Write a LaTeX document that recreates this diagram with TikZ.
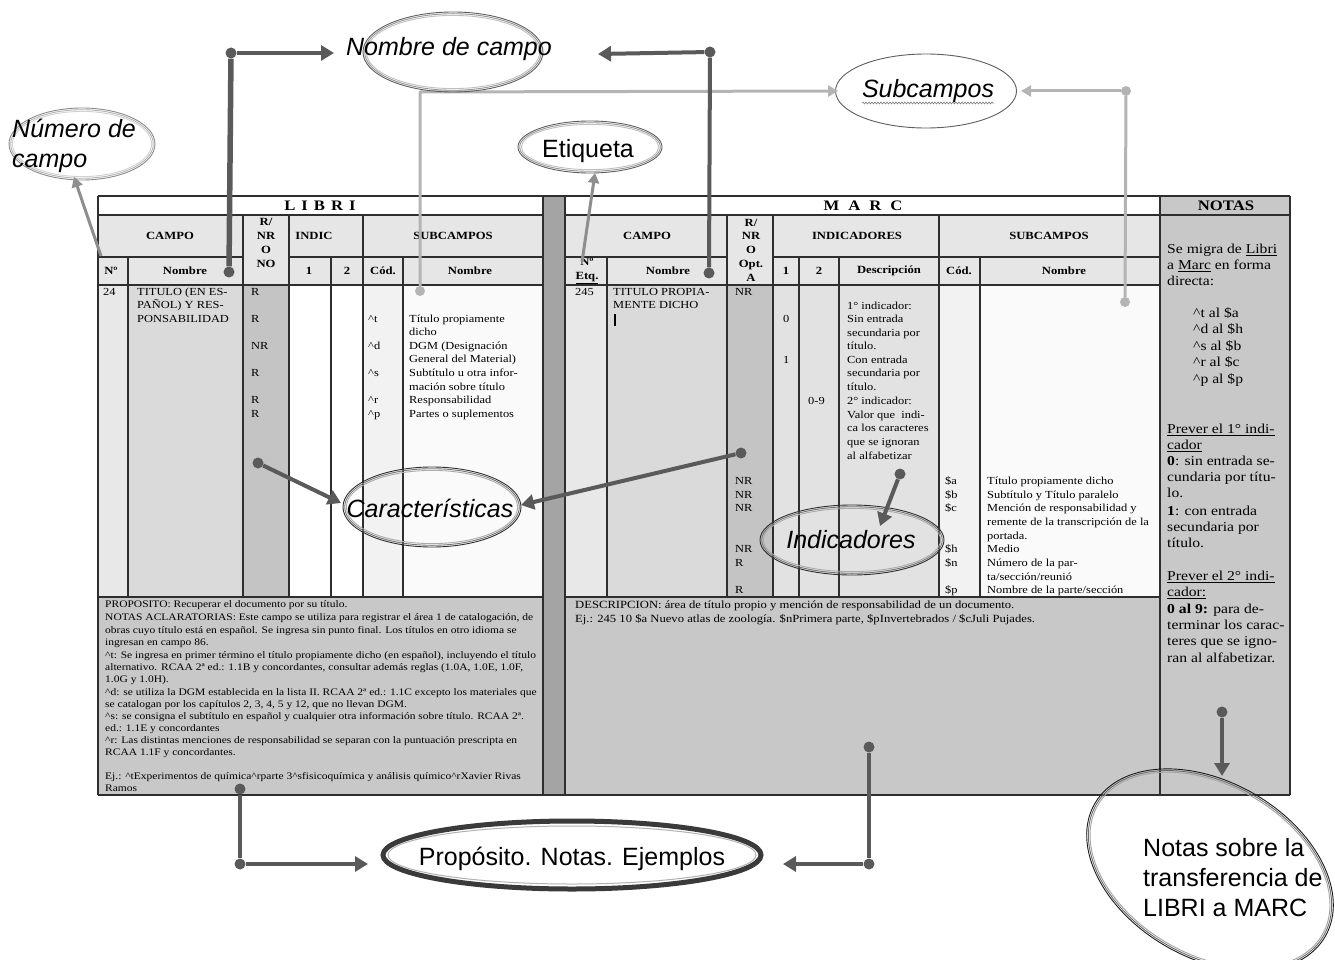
\documentclass[tikz,border=0pt]{standalone}
\usepackage{fontspec}
\setmainfont{Liberation Serif}[FakeStretch=1.15]
\newfontfamily\annfont{Liberation Sans}
\usetikzlibrary{arrows.meta,shapes.geometric,decorations.pathmorphing}

\definecolor{gridc}{HTML}{2E2E2E}
\definecolor{hdr}{HTML}{E6E6E6}
\definecolor{shNom}{HTML}{DADADA}
\definecolor{shRnr}{HTML}{C4C4C4}
\definecolor{shInd}{HTML}{E2E2E2}
\definecolor{shNo}{HTML}{E8E8E8}
\definecolor{shCod}{HTML}{F2F2F2}
\definecolor{shSub}{HTML}{FAFAFA}
\definecolor{shNotes}{HTML}{C8C8C8}
\definecolor{sepc}{HTML}{A4A4A4}
\definecolor{dkc}{HTML}{5A5A5A}
\definecolor{ltc}{HTML}{B4B4B4}
\definecolor{mdc}{HTML}{8E8E8E}
\definecolor{ringlt}{HTML}{8C8C8C}
\definecolor{ringmd}{HTML}{5E5E5E}
\definecolor{ringdk}{HTML}{2E2E2E}
\definecolor{ringbk}{HTML}{1A1A1A}
\definecolor{propc}{HTML}{3A3A3A}

\newcounter{cellno}
\newcommand\tcell[4][]{\stepcounter{cellno}\node[txt,#1] (c\the\value{cellno}) at (#2,#3) {#4};}
\newcommand\caret{\textasciicircum}
% three nested outlines around an annotation bubble
\newcommand\ovalnode[7]{%
  \node[ring, draw=#6, minimum width=#4pt, minimum height=#5pt, rotate=#7] (#1) at (#2,#3) {};
  \node[ring, draw=#6!65, minimum width=#4pt-3.4pt, minimum height=#5pt-3.4pt, rotate=#7] (#1-b) at (#2,#3) {};
  \node[ring, draw=#6!40, minimum width=#4pt-6.8pt, minimum height=#5pt-6.8pt, rotate=#7] (#1-c) at (#2,#3) {};}

\begin{document}
\begin{tikzpicture}[x=1pt,y=-1pt,
  txt/.style={inner sep=0pt, anchor=mid west, font=\fontsize{10.8}{12.5}\selectfont},
  hd/.style={anchor=center, align=center, font=\bfseries\fontsize{11}{13.8}\selectfont},
  ttl/.style={anchor=center, font=\bfseries\fontsize{14.5}{17}\selectfont},
  nt/.style={font=\fontsize{10}{11}\selectfont},
  mn/.style={font=\fontsize{11}{12}\selectfont},
  nts/.style={font=\fontsize{13.6}{16}\selectfont},
  grid/.style={draw=gridc, line width=1.2pt},
  ring/.style={ellipse, inner sep=0pt, line width=0.9pt},
  ann/.style={inner sep=0pt, font=\annfont\fontsize{25}{30}\selectfont},
  dot/.style={circle, fill=dkc, inner sep=0pt, minimum size=11pt},
  ldot/.style={circle, fill=ltc, inner sep=0pt, minimum size=10pt},
  dk/.style={draw=dkc, line width=4pt},
  dkarr/.style={dk, -{Triangle[length=13pt,width=15pt]}},
  lt/.style={draw=ltc, line width=3pt},
  ltarr/.style={lt, -{Triangle[length=10pt,width=11pt]}},
  md/.style={draw=mdc, line width=3pt, -{Triangle[length=10pt,width=11pt]}}]

\useasboundingbox (0,0) rectangle (1335,960);
\fill[white] (0,0) rectangle (1335,960);

% ---------- cell shading ----------
\fill[hdr] (98,215) rectangle (543,285);
\fill[hdr] (565,215) rectangle (1160,285);
\fill[shNo] (98,285) rectangle (128,597);
\fill[shNom] (128,285) rectangle (243,597);
\fill[shRnr] (243,285) rectangle (289,597);
\fill[shCod] (363,285) rectangle (403,597);
\fill[shSub] (403,285) rectangle (543,597);
\fill[shNo] (565,285) rectangle (607,597);
\fill[shNom] (607,285) rectangle (727,597);
\fill[shRnr] (727,285) rectangle (773,597);
\fill[shInd] (773,285) rectangle (939,597);
\fill[shCod] (939,285) rectangle (980,597);
\fill[shSub] (980,285) rectangle (1160,597);
\fill[shNotes] (98,597) rectangle (543,795);
\fill[shNotes] (565,597) rectangle (1160,795);
\fill[shNotes] (1160,196) rectangle (1290,795);
\fill[sepc] (543,196) rectangle (565,795);

% ---------- rules ----------
\draw[grid] (98,196) -- (1290,196);
\draw[grid] (98,215) -- (543,215) (565,215) -- (1290,215);
\draw[grid] (98,257) -- (243,257) (289,257) -- (543,257) (565,257) -- (727,257) (773,257) -- (1160,257);
\draw[grid] (98,285) -- (543,285) (565,285) -- (1160,285);
\draw[grid] (98,597) -- (543,597) (565,597) -- (1160,597);
\draw[grid] (98,795) -- (1290,795);
\draw[grid] (98,196) -- (98,795) (128,257) -- (128,597) (243,215) -- (243,597)
  (289,215) -- (289,597) (331,257) -- (331,597) (363,215) -- (363,597)
  (403,257) -- (403,597) (543,196) -- (543,795);
\draw[grid] (565,196) -- (565,795) (607,257) -- (607,597) (727,215) -- (727,597)
  (773,215) -- (773,597) (799,257) -- (799,597) (839,257) -- (839,597)
  (939,215) -- (939,597) (980,257) -- (980,597) (1160,196) -- (1160,795)
  (1290,196) -- (1290,795);

% ---------- headers ----------
\tcell[ttl]{320}{206}{L\hspace{6pt}I\hspace{6pt}B\hspace{6pt}R\hspace{6pt}I}
\tcell[ttl]{863}{206}{M\hspace{9pt}A\hspace{9pt}R\hspace{9pt}C}
\tcell[ttl]{1226}{206}{NOTAS}
\tcell[hd]{170}{236}{CAMPO}
\tcell[hd]{266}{243}{R/\\NR\\O\\NO}
\tcell[hd]{314}{236}{INDIC}
\tcell[hd]{453}{236}{SUBCAMPOS}
\tcell[hd]{111}{271}{Nº}
\tcell[hd]{185}{271}{Nombre}
\tcell[hd]{309}{271}{1}
\tcell[hd]{347}{271}{2}
\tcell[hd]{383}{271}{Cód.}
\tcell[hd]{470}{271}{Nombre}
\tcell[hd]{647}{236}{CAMPO}
\tcell[hd]{751}{250}{R/\\NR\\O\\Opt.\\A}
\tcell[hd]{857}{236}{INDICADORES}
\tcell[hd]{1049}{236}{SUBCAMPOS}
\tcell[hd]{587}{271}{Nº\\\underline{Etq.}}
\tcell[hd]{668}{271}{Nombre}
\tcell[hd]{786}{271}{1}
\tcell[hd]{819}{271}{2}
\tcell[hd]{889}{271}{Descripción}
\tcell[hd]{959}{271}{Cód.}
\tcell[hd]{1064}{271}{Nombre}

% ---------- LIBRI body ----------
\tcell{103}{293}{24}
\tcell{137}{293}{TITULO (EN ES-}
\tcell{137}{306}{PAÑOL) Y RES-}
\tcell{137}{320}{PONSABILIDAD}
\tcell{251}{293}{R}
\tcell{251}{320}{R}
\tcell{251}{347}{NR}
\tcell{251}{374}{R}
\tcell{251}{401}{R}
\tcell{251}{415}{R}
\tcell{368}{320}{\caret t}
\tcell{368}{347}{\caret d}
\tcell{368}{374}{\caret s}
\tcell{368}{401}{\caret r}
\tcell{368}{415}{\caret p}
\tcell{409}{320}{Título propiamente}
\tcell{409}{333}{dicho}
\tcell{409}{347}{DGM (Designación}
\tcell{409}{360}{General del Material)}
\tcell{409}{374}{Subtítulo u otra infor-}
\tcell{409}{388}{mación sobre título}
\tcell{409}{401}{Responsabilidad}
\tcell{409}{415}{Partes o suplementos}

% ---------- MARC body ----------
\tcell{575}{293}{245}
\tcell{613}{293}{TITULO PROPIA-}
\tcell{613}{306}{MENTE DICHO}
\draw[line width=1.6pt] (615,314) -- (615,326);
\tcell{735}{293}{NR}
\tcell{783}{320}{0}
\tcell{783}{361}{1}
\tcell{808}{402}{0-9}
\tcell{847}{307}{1° indicador:}
\tcell{847}{320}{Sin entrada}
\tcell{847}{334}{secundaria por}
\tcell{847}{347}{título.}
\tcell{847}{361}{Con entrada}
\tcell{847}{374}{secundaria por}
\tcell{847}{388}{título.}
\tcell{847}{402}{2° indicador:}
\tcell{847}{416}{Valor que \ indi-}
\tcell{847}{429}{ca los caracteres}
\tcell{847}{443}{que se ignoran}
\tcell{847}{457}{al alfabetizar}
\tcell{735}{482}{NR}
\tcell{735}{496}{NR}
\tcell{735}{509}{NR}
\tcell{735}{550}{NR}
\tcell{735}{564}{R}
\tcell{735}{591}{R}
\tcell{945}{482}{\$a}
\tcell{945}{496}{\$b}
\tcell{945}{509}{\$c}
\tcell{945}{550}{\$h}
\tcell{945}{564}{\$n}
\tcell{945}{591}{\$p}
\tcell{987}{482}{Título propiamente dicho}
\tcell{987}{496}{Subtítulo y Título paralelo}
\tcell{987}{509}{Mención de responsabilidad y}
\tcell{987}{523}{remente de la transcripción de la}
\tcell{987}{537}{portada.}
\tcell{987}{550}{Medio}
\tcell{987}{564}{Número de la par-}
\tcell{987}{578}{ta/sección/reunió}
\tcell{987}{591}{Nombre de la parte/sección}

% ---------- LIBRI notes ----------
\tcell[nt]{105}{605}{PROPOSITO: Recuperar el documento por su título.}
\tcell[nt]{105}{618}{NOTAS ACLARATORIAS: Este campo se utiliza para registrar el área 1 de catalogación, de}
\tcell[nt]{105}{631}{obras cuyo título está en español. Se ingresa sin punto final. Los títulos en otro idioma se}
\tcell[nt]{105}{643}{ingresan en campo 86.}
\tcell[nt]{105}{656}{\caret t: Se ingresa en primer término el título propiamente dicho (en español), incluyendo el título}
\tcell[nt]{105}{668}{alternativo. RCAA 2ª ed.: 1.1B y concordantes, consultar además reglas (1.0A, 1.0E, 1.0F,}
\tcell[nt]{105}{680}{1.0G y 1.0H).}
\tcell[nt]{105}{693}{\caret d: se utiliza la DGM establecida en la lista II. RCAA 2ª ed.: 1.1C excepto los materiales que}
\tcell[nt]{105}{705}{se catalogan por los capítulos 2, 3, 4, 5 y 12, que no llevan DGM.}
\tcell[nt]{105}{717}{\caret s: se consigna el subtítulo en español y cualquier otra información sobre título. RCAA 2ª.}
\tcell[nt]{105}{729}{ed.: 1.1E y concordantes}
\tcell[nt]{105}{741}{\caret r: Las distintas menciones de responsabilidad se separan con la puntuación prescripta en}
\tcell[nt]{105}{753}{RCAA 1.1F y concordantes.}
\tcell[nt]{105}{777}{Ej.: \caret tExperimentos de química\caret rparte 3\caret sfisicoquímica y análisis químico\caret rXavier Rivas}
\tcell[nt]{105}{789}{Ramos}

% ---------- MARC notes ----------
\tcell[mn]{575}{606}{DESCRIPCION: área de título propio y mención de responsabilidad de un documento.}
\tcell[mn]{575}{620}{Ej.: 245 10 \$a Nuevo atlas de zoología. \$nPrimera parte, \$pInvertebrados / \$cJuli Pujades.}

% ---------- NOTAS column ----------
\tcell[nts]{1167}{251}{Se migra de \underline{Libri}}
\tcell[nts]{1167}{267}{a \underline{Marc} en forma}
\tcell[nts]{1167}{283}{directa:}
\tcell[nts]{1193}{315}{\caret t al \$a}
\tcell[nts]{1193}{331}{\caret d al \$h}
\tcell[nts]{1193}{348}{\caret s al \$b}
\tcell[nts]{1193}{364}{\caret r al \$c}
\tcell[nts]{1193}{381}{\caret p al \$p}
\tcell[nts]{1167}{431}{\underline{Prever el 1° indi-}}
\tcell[nts]{1167}{447}{\underline{cador}}
\tcell[nts]{1167}{463}{\textbf{0}: sin entrada se-}
\tcell[nts]{1167}{479}{cundaria por títu-}
\tcell[nts]{1167}{495}{lo.}
\tcell[nts]{1167}{513}{\textbf{1}: con entrada}
\tcell[nts]{1167}{529}{secundaria por}
\tcell[nts]{1167}{545}{título.}
\tcell[nts]{1167}{578}{\underline{Prever el 2° indi-}}
\tcell[nts]{1167}{594}{\underline{cador:}}
\tcell[nts]{1167}{611}{\textbf{0 al 9:} para de-}
\tcell[nts]{1167}{627}{terminar los carac-}
\tcell[nts]{1167}{643}{teres que se igno-}
\tcell[nts]{1167}{660}{ran al alfabetizar.}

% ---------- Subcampos callout (light lines) ----------
\node[ellipse, draw=ringmd, line width=0.9pt, fill=white, minimum width=181pt, minimum height=74pt] (subc) at (926,91) {};
\node[ann, anchor=base] (subc-t) at (928,98) {\itshape Subcampos};
\draw[draw=gray, line width=0.6pt, decorate, decoration={snake, amplitude=1pt, segment length=3pt}] (862,103) -- (994,103);
\node[ldot] (dE) at (420,291) {};
\coordinate (cE) at (420,92);
\coordinate (subc-l) at (838,91);
\draw[ltarr, line join=round] (dE) -- (cE) -- (subc-l);
\node[ldot] (dF) at (1126,91) {};
\node[ldot] (dG) at (1125,302) {};
\coordinate (subc-r) at (1021,91);
\draw[lt] (dF) -- (dG);
\draw[ltarr] (dF) -- (subc-r);

% ---------- Número de campo ----------
\ovalnode{numc}{82}{144}{146}{72}{ringlt}{0}
\node[ann, anchor=base west] (numc-t1) at (12,138) {\itshape Número de};
\node[ann, anchor=base west] (numc-t2) at (12,168) {\itshape campo};
\coordinate (numc-s) at (101,256);
\coordinate (numc-e) at (74,177);
\draw[md] (numc-s) -- (numc-e);

% ---------- Nombre de campo ----------
\ovalnode{nomc}{453}{52}{180}{80}{ringmd}{0}
\node[ann, anchor=base] (nomc-t) at (449,56) {\itshape Nombre de campo};
\node[dot] (dA) at (231,53) {};
\node[dot] (dB) at (229,272) {};
\draw[dk, line width=5.5pt] (dA) -- (dB);
\coordinate (nomc-l) at (334,53);
\draw[dkarr] (dA) -- (nomc-l);
\node[dot] (dC) at (710,52) {};
\node[dot] (dD) at (709,273) {};
\draw[dk] (dC) -- (dD);
\coordinate (nomc-r) at (598,54);
\draw[dkarr] (dC) -- (nomc-r);

% ---------- Etiqueta ----------
\ovalnode{etiq}{590}{147}{144}{52}{ringmd}{0}
\node[ann, anchor=base] (etiq-t) at (588,158) {Etiqueta};
\coordinate (etiq-s) at (582,262);
\coordinate (etiq-e) at (595,173);
\draw[md] (etiq-s) -- (etiq-e);

% ---------- Características ----------
\ovalnode{cara}{432}{507}{178}{80}{ringdk}{0}
\node[ann, anchor=base] (cara-t) at (430,517) {\itshape Características};
\node[dot] (dH) at (258,463) {};
\coordinate (cara-l) at (341,503);
\draw[dkarr] (dH) -- (cara-l);
\node[dot] (dI) at (741,453) {};
\coordinate (cara-r) at (521,505);
\draw[dkarr] (dI) -- (cara-r);

% ---------- Indicadores ----------
\ovalnode{indi}{852}{540}{184}{70}{ringdk}{0}
\node[ann, anchor=base] (indi-t) at (851,548) {\itshape Indicadores};
\node[dot] (dJ) at (900,474) {};
\coordinate (indi-e) at (880,526);
\draw[dkarr] (dJ) -- (indi-e);

% ---------- Propósito. Notas. Ejemplos ----------
\node[ellipse, draw=propc, line width=5pt, minimum width=378pt, minimum height=68pt] (prop) at (572,855) {};
\node[ellipse, draw=gray!60, line width=1pt, minimum width=368pt, minimum height=58pt] (prop-b) at (572,855) {};
\node[ann, anchor=base] (prop-t) at (572,865) {Propósito. Notas. Ejemplos};
\node[dot] (dK) at (240,789) {};
\node[dot] (dL) at (240,864) {};
\draw[dk] (dK) -- (dL);
\coordinate (prop-l) at (368,864);
\draw[dkarr] (dL) -- (prop-l);
\node[dot] (dM) at (869,747) {};
\node[dot] (dN) at (869,864) {};
\draw[dk] (dM) -- (dN);
\coordinate (prop-r) at (783,864);
\draw[dkarr] (dN) -- (prop-r);

% ---------- Notas sobre la transferencia ----------
\ovalnode{nots}{1210}{870}{266}{176}{ringbk}{-30}
\node[ann, anchor=base west] (nots-t1) at (1143,856) {Notas sobre la};
\node[ann, anchor=base west] (nots-t2) at (1143,886) {transferencia de};
\node[ann, anchor=base west] (nots-t3) at (1143,916) {LIBRI a MARC};
\node[dot] (dO) at (1222,712) {};
\coordinate (nots-e) at (1222,776);
\draw[dkarr] (dO) -- (nots-e);

\end{tikzpicture}
\end{document}
